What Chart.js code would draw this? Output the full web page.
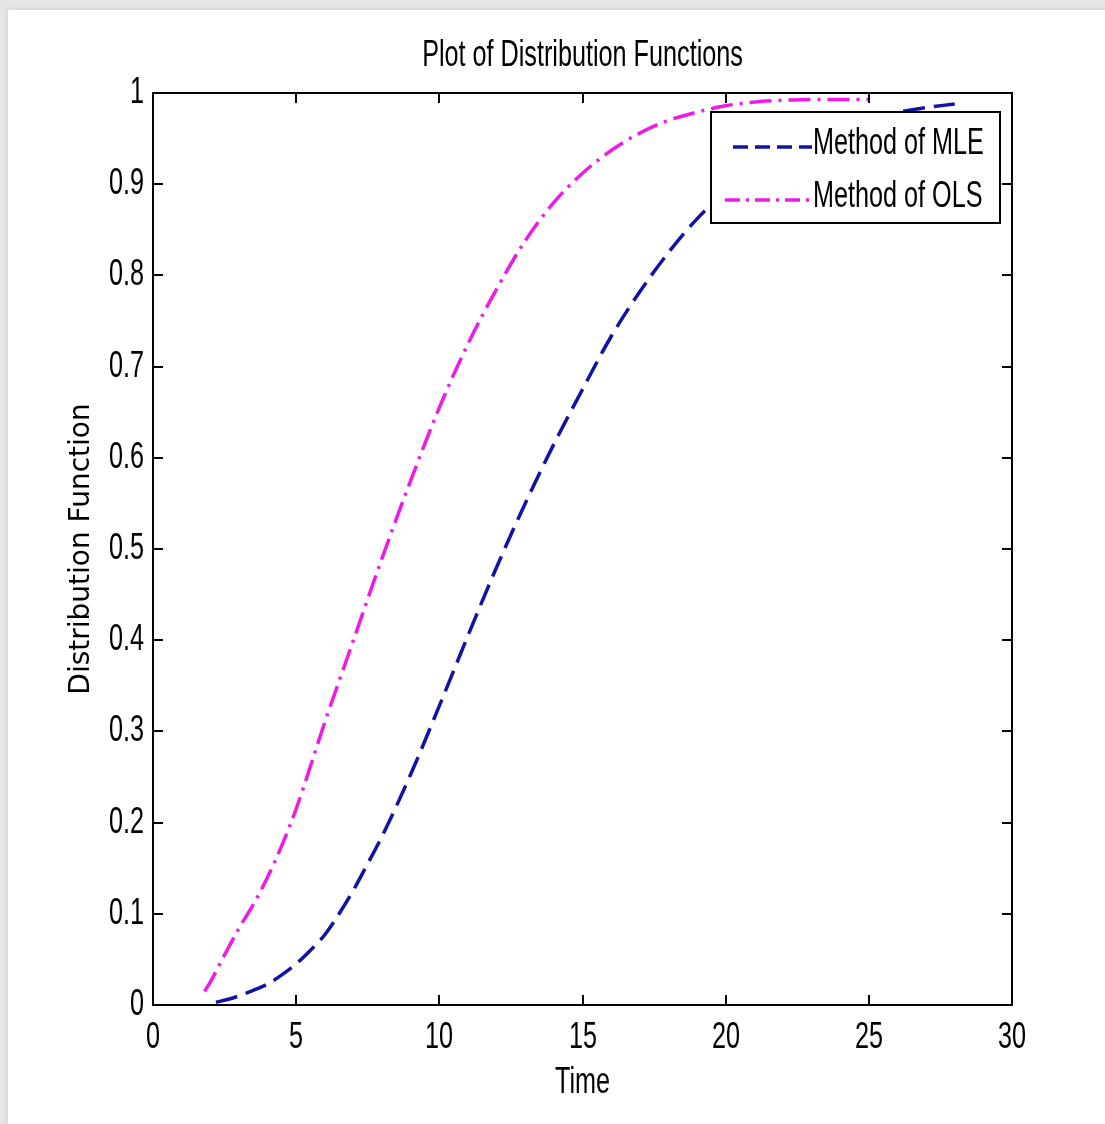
<!DOCTYPE html>
<html>
<head>
<meta charset="utf-8">
<script src="https://cdn.jsdelivr.net/npm/chart.js@4.4.1/dist/chart.umd.min.js"></script>
<style>
    html, body { margin: 0; padding: 0; background: #e6e6e6; }
    #wrap {
        position: absolute; left: 8px; top: 10px;
        width: 1097px; height: 1114px;
        background: #fff;
        box-shadow: 0 0 6px rgba(0, 0, 0, 0.12);
    }
</style>
</head>
<body>
<div id="wrap"><canvas id="cdfChart" width="1097" height="1114"></canvas></div>
<script>
// Values
const timeMLE = [2.2, 2.6, 3, 3.5, 4, 4.5, 5, 5.5, 6, 6.5, 7, 7.5, 8, 9, 10, 11, 12, 13, 14, 15, 16, 17, 18, 19, 20, 21, 22, 23, 24, 25, 26, 27, 28];
const cdfMLE = [0.003, 0.006, 0.010, 0.016, 0.023, 0.033, 0.045, 0.060, 0.077, 0.100, 0.126, 0.155, 0.185, 0.253, 0.328, 0.405, 0.48, 0.55, 0.615, 0.675, 0.733, 0.782, 0.825, 0.862, 0.892, 0.916, 0.936, 0.952, 0.964, 0.973, 0.979, 0.984, 0.988];

const timeOLS = [1.8, 2, 2.5, 3, 3.5, 4, 4.5, 5, 6, 7, 8, 9, 10, 11, 12, 13, 14, 15, 16, 17, 18, 19, 20, 21, 22, 23, 24, 25];
const cdfOLS = [0.015, 0.025, 0.055, 0.084, 0.11, 0.14, 0.175, 0.215, 0.31, 0.40, 0.49, 0.575, 0.655, 0.725, 0.785, 0.838, 0.88, 0.912, 0.937, 0.956, 0.97, 0.979, 0.986, 0.99, 0.992, 0.993, 0.993, 0.993];

const seriesNames = ['Method of MLE', 'Method of OLS'];
const chartTitle = 'Plot of Distribution Functions';
const xTitle = 'Time';
const yTitle = 'Distribution Function';

const BLUE = '#1212a4';
const MAGENTA = '#f01ae6';

// no condensed font installed, so squeeze Liberation Sans sideways
function narrowText(ctx, text, x, y, align) {
    ctx.save();
    ctx.translate(x, y);
    ctx.scale(0.7, 1);
    ctx.font = '36px "Liberation Sans", Arial, sans-serif';
    ctx.fillStyle = '#000';
    ctx.textAlign = align;
    ctx.textBaseline = 'middle';
    ctx.fillText(text, 0, 0);
    ctx.restore();
}

// title, tick labels, inward ticks, box and legend drawn MATLAB style
const matlabFrame = {
    id: 'matlabFrame',
    afterDraw(chart) {
        const ctx = chart.ctx;
        const area = chart.chartArea;
        const xs = chart.scales.x;
        const ys = chart.scales.y;
        const tl = 10;
        const fmt = v => String(Math.round(v * 10) / 10);

        ctx.save();
        ctx.strokeStyle = '#000';
        ctx.lineWidth = 2;
        ctx.beginPath();
        xs.ticks.forEach(t => {
            const px = Math.round(xs.getPixelForValue(t.value));
            ctx.moveTo(px, area.bottom); ctx.lineTo(px, area.bottom - tl);
            ctx.moveTo(px, area.top); ctx.lineTo(px, area.top + tl);
            narrowText(ctx, fmt(t.value), px, area.bottom + 33, 'center');
        });
        ys.ticks.forEach(t => {
            const py = Math.round(ys.getPixelForValue(t.value));
            ctx.moveTo(area.left, py); ctx.lineTo(area.left + tl, py);
            ctx.moveTo(area.right, py); ctx.lineTo(area.right - tl, py);
            narrowText(ctx, fmt(t.value), area.left - 9, py, 'right');
        });
        ctx.stroke();
        ctx.strokeRect(area.left, area.top, area.right - area.left, area.bottom - area.top);

        narrowText(ctx, chartTitle, (area.left + area.right) / 2, 46, 'center');
        narrowText(ctx, xTitle, (area.left + area.right) / 2, area.bottom + 78, 'center');

        // legend
        const lx = 703, ly = 102, lw = 289, lh = 111;
        ctx.fillStyle = '#fff';
        ctx.fillRect(lx, ly, lw, lh);
        ctx.strokeStyle = '#000';
        ctx.strokeRect(lx, ly, lw, lh);
        const rows = [
            { y: 137, dash: [15, 7], color: BLUE, x0: 725 },
            { y: 190, dash: [15, 6, 3, 6], color: MAGENTA, x0: 717 }
        ];
        rows.forEach((r, i) => {
            ctx.beginPath();
            ctx.setLineDash(r.dash);
            ctx.lineWidth = 3.5;
            ctx.strokeStyle = r.color;
            ctx.moveTo(r.x0, r.y);
            ctx.lineTo(804, r.y);
            ctx.stroke();
            ctx.setLineDash([]);
            narrowText(ctx, seriesNames[i], 805, r.y - 3, 'left');
        });
        ctx.restore();
    }
};

const ctx = document.getElementById('cdfChart').getContext('2d');

new Chart(ctx, {
    type: 'line',
    data: {
        datasets: [
            {
                label: seriesNames[0],
                data: timeMLE.map((t, i) => ({ x: t, y: cdfMLE[i] })),
                borderColor: BLUE,
                borderWidth: 3.5,
                borderDash: [22, 9],
                pointRadius: 0,
                cubicInterpolationMode: 'monotone',
                fill: false
            },
            {
                label: seriesNames[1],
                data: timeOLS.map((t, i) => ({ x: t, y: cdfOLS[i] })),
                borderColor: MAGENTA,
                borderWidth: 3.5,
                borderDash: [22, 7, 3, 7],
                pointRadius: 0,
                cubicInterpolationMode: 'monotone',
                fill: false
            }
        ]
    },
    options: {
        responsive: false,
        animation: false,
        layout: { padding: { top: 83, right: 93, left: 0, bottom: 0 } },
        plugins: {
            legend: { display: false },
            title: { display: false },
            tooltip: { enabled: false }
        },
        scales: {
            x: {
                type: 'linear',
                min: 0,
                max: 30,
                grid: { display: false, drawTicks: false, tickLength: 0 },
                border: { display: false },
                ticks: { stepSize: 5, display: false },
                afterFit: scale => { scale.height = 119; }
            },
            y: {
                type: 'linear',
                min: 0,
                max: 1,
                grid: { display: false, drawTicks: false, tickLength: 0 },
                border: { display: false },
                ticks: { stepSize: 0.1, display: false },
                title: {
                    display: true,
                    text: yTitle,
                    color: '#000',
                    font: { family: '"DejaVu Sans", Verdana, sans-serif', size: 28 },
                    padding: { top: 57, bottom: 0 }
                },
                afterFit: scale => { scale.width = 145; }
            }
        }
    },
    plugins: [matlabFrame]
});
</script>
</body>
</html>
